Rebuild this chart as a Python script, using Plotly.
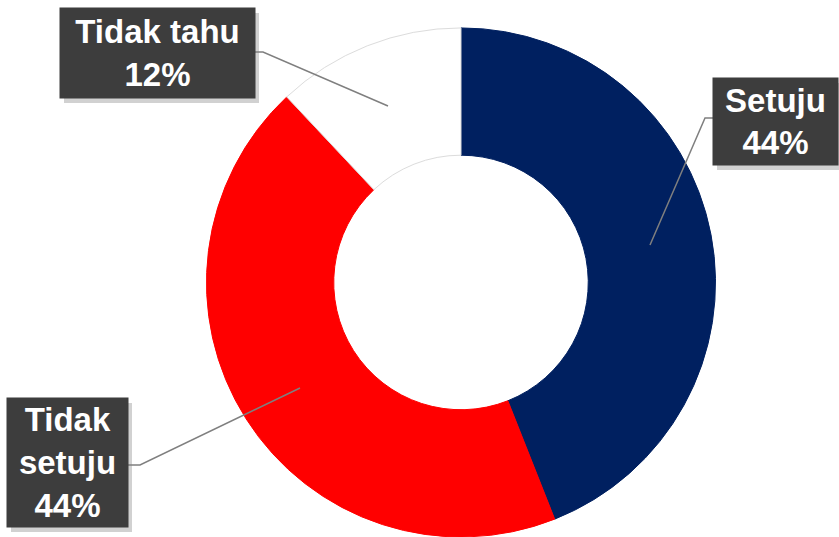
import plotly.graph_objects as go

labels = ['Setuju', 'Tidak setuju', 'Tidak tahu']
values = [44, 44, 12]
colors = ['#002060', '#ff0000', '#ffffff']
box_text = ['Setuju<br>44%', 'Tidak<br>setuju<br>44%', 'Tidak tahu<br>12%']

W, H = 839, 537

def px(x):
    return x / W

def py(y):
    return 1 - y / H

fig = go.Figure(go.Pie(
    labels=labels,
    values=values,
    hole=0.5,
    sort=False,
    direction='clockwise',
    rotation=0,
    textinfo='none',
    hoverinfo='label+percent',
    marker=dict(colors=colors, line=dict(color=['#002060', '#ff0000', '#dcdcdc'], width=1)),
    domain=dict(x=[px(205), px(717)], y=[0, 0.948]),
    showlegend=False,
))

# label boxes: (center x, center y, width, height) in pixels
boxes = [(775.5, 121.5, 125, 87), (67.5, 462.5, 121, 129), (157.5, 53, 195, 90)]
for txt, (cx, cy, bw, bh) in zip(box_text, boxes):
    # soft shadow
    fig.add_shape(type='rect', xref='paper', yref='paper',
                  x0=px(cx - bw / 2 + 4), x1=px(cx + bw / 2 + 4),
                  y0=py(cy + bh / 2 + 5), y1=py(cy - bh / 2 + 5),
                  fillcolor='rgba(0,0,0,0.18)', line=dict(width=0), layer='above')
    fig.add_annotation(
        x=px(cx), y=py(cy), xref='paper', yref='paper',
        xanchor='center', yanchor='middle',
        text=txt, showarrow=False,
        font=dict(family='Liberation Sans, Arial', size=33, color='white', weight='bold'),
        bgcolor='#3d3d3d', borderpad=0,
        width=bw, height=bh, align='center', valign='middle',
    )

# leader lines
leaders = [
    [(713, 118), (705, 118), (650, 245)],
    [(128, 465), (140, 465), (300, 388)],
    [(255, 52), (263, 52), (388, 106)],
]
for pts in leaders:
    path = 'M ' + ' L '.join(f'{px(x)},{py(y)}' for x, y in pts)
    fig.add_shape(type='path', xref='paper', yref='paper', path=path,
                  line=dict(color='#7f7f7f', width=1.5))

fig.update_layout(
    width=W, height=H,
    margin=dict(l=0, r=0, t=0, b=0),
    paper_bgcolor='white',
    plot_bgcolor='white',
)

fig.write_html('out.html', config={'displayModeBar': False},
               post_script="document.body.style.margin='0';")
